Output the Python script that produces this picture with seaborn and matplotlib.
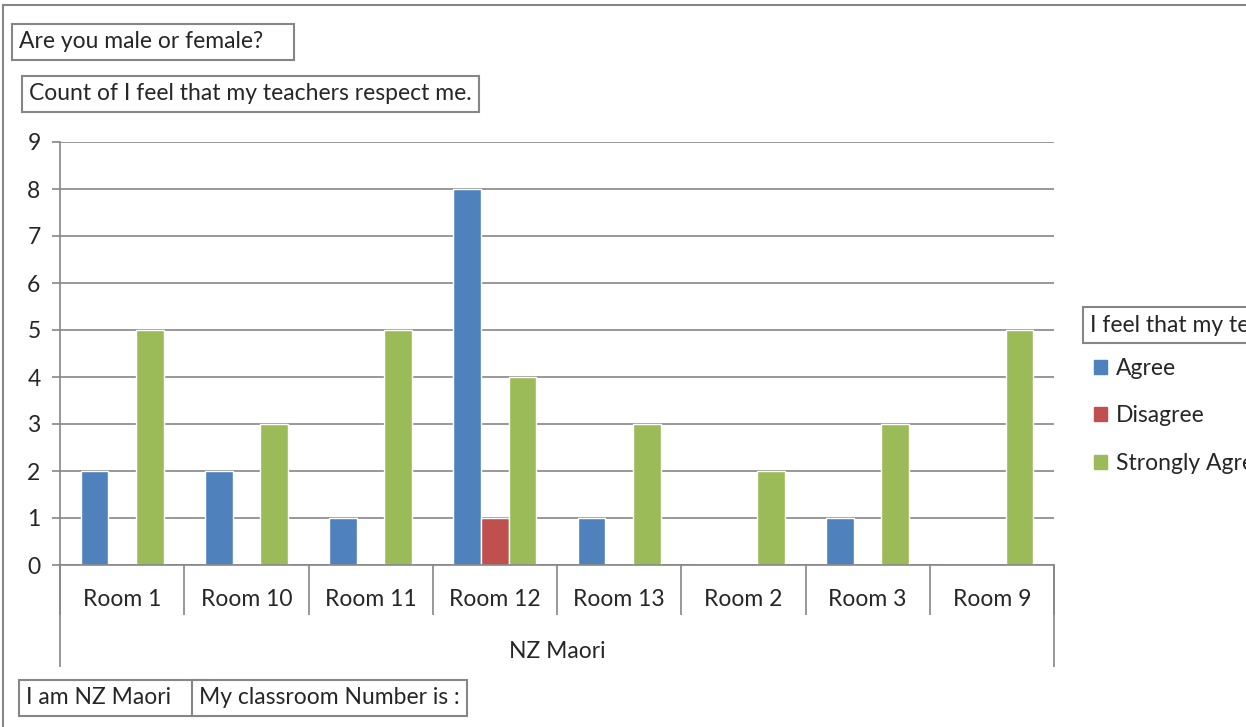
import pandas as pd
import matplotlib.pyplot as plt
import matplotlib.patches as mpatches
import matplotlib.transforms as mtrans
import seaborn as sns

# data
rooms = ["Room 1", "Room 10", "Room 11", "Room 12", "Room 13", "Room 2", "Room 3", "Room 9"]
responses = ["Agree", "Disagree", "Strongly Agree"]
agree = [2, 2, 1, 8, 1, 0, 1, 0]
disagree = [0, 0, 0, 1, 0, 0, 0, 0]
strongly_agree = [5, 3, 5, 4, 3, 2, 3, 5]
colors = ["#4F81BD", "#C0504D", "#9BBB59"]

df = pd.DataFrame({
    "Room": rooms * 3,
    "Response": [responses[0]] * 8 + [responses[1]] * 8 + [responses[2]] * 8,
    "Count": agree + disagree + strongly_agree,
})

sns.set_style("white")
plt.rcParams["font.family"] = ["Lato", "DejaVu Sans"]
FS = 16.5
grey = "#868686"

fig = plt.figure(figsize=(12.46, 7.27), dpi=100)
W, H = 1246, 727
ax = fig.add_axes([60 / W, 1 - 565 / H, (1054 - 60) / W, (565 - 142) / H])

sns.barplot(data=df, x="Room", y="Count", hue="Response", order=rooms,
            hue_order=responses, palette=colors, width=0.667, gap=0,
            saturation=1, ax=ax, legend=False)

ax.set_xlim(-0.5, len(rooms) - 0.5)
ax.set_ylim(0, 9)
ax.set_yticks(range(10))
ax.yaxis.grid(True, color=grey, linewidth=1.2)
ax.set_axisbelow(True)
for s in ["top", "right"]:
    ax.spines[s].set_visible(False)
for s in ["left", "bottom"]:
    ax.spines[s].set_color(grey)
    ax.spines[s].set_linewidth(1.2)
ax.tick_params(axis="y", left=True, length=6, width=1.2, color=grey, pad=8, labelsize=FS)
ax.set_xlabel("")
ax.set_ylabel("")

# category axis: labels centred, ticks between categories
ax.set_xticks(range(len(rooms)))
ax.set_xticklabels(rooms)
ax.tick_params(axis="x", which="major", length=0, pad=17, labelsize=FS)
ax.set_xticks([i - 0.5 for i in range(len(rooms) + 1)], minor=True)
ax.tick_params(axis="x", which="minor", bottom=True, length=36, width=1.2, color=grey)
trans = mtrans.blended_transform_factory(ax.transData, ax.transAxes)
ax.vlines([-0.5, len(rooms) - 0.5], -102 / 423, 0, transform=trans,
          color=grey, linewidth=1.2, clip_on=False)
ax.text((len(rooms) - 1) / 2, -87 / 423, "NZ Maori", transform=trans,
        ha="center", va="center", fontsize=FS)

# outer chart border
fig.patches.append(mpatches.Rectangle((3 / W, -0.1), 1.2, 1.1 - 5 / H, transform=fig.transFigure,
                                      fill=False, edgecolor=grey, linewidth=1.5))

box = dict(boxstyle="square,pad=0.32", facecolor="white", edgecolor=grey, linewidth=1.5)
fig.text(19 / W, 1 - 42 / H, "Are you male or female?    ", fontsize=FS, va="center", bbox=box)
fig.text(29 / W, 1 - 94 / H, "Count of I feel that my teachers respect me.", fontsize=FS,
         va="center", bbox=box)
fig.text(26 / W, 1 - 698 / H, "I am NZ Maori     ", fontsize=FS, va="center", bbox=box)
fig.text(199 / W, 1 - 698 / H, "My classroom Number is :", fontsize=FS, va="center", bbox=box)
fig.text(1090 / W, 1 - 325 / H, "I feel that my teachers respect me.", fontsize=FS,
         va="center", bbox=box)

handles = [mpatches.Patch(color=c, label=r) for c, r in zip(colors, responses)]
fig.legend(handles=handles, loc="upper left", bbox_to_anchor=(1094 / W, 1 - 358 / H),
           frameon=False, fontsize=FS, handlelength=0.55, handleheight=0.55,
           handletextpad=0.4, labelspacing=1.15, borderaxespad=0, borderpad=0)

fig.savefig("out.png", dpi=100)
